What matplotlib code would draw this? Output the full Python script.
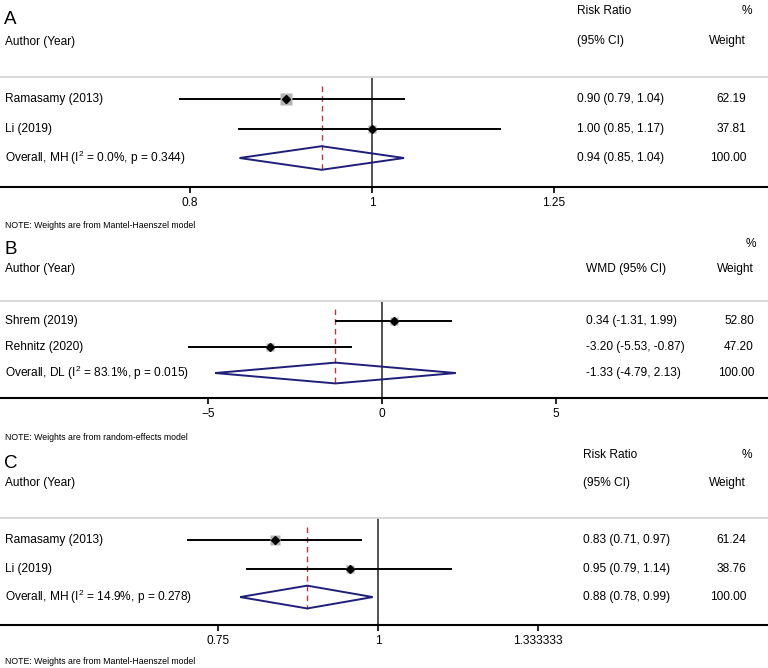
import matplotlib
matplotlib.use('Agg')
import matplotlib.pyplot as plt
import matplotlib.transforms as mtransforms
from matplotlib.ticker import NullLocator
import numpy as np

plt.rcParams['font.family'] = ['Liberation Sans', 'DejaVu Sans']
plt.rcParams['mathtext.fontset'] = 'custom'
plt.rcParams['mathtext.rm'] = 'Liberation Sans'
plt.rcParams['mathtext.it'] = 'Liberation Sans'

W, H = 768, 668

# ---- data ----
a_studies = ['Ramasamy (2013)', 'Li (2019)']
a_est = [0.90, 1.00]
a_lo = [0.79, 0.85]
a_hi = [1.04, 1.17]
a_weight = [62.19, 37.81]
a_overall = (0.94, 0.85, 1.04)
a_overall_label = 'Overall, MH (I$^{2}$ = 0.0%, p = 0.344)'
a_ticks = [0.8, 1, 1.25]
a_ticklabels = ['0.8', '1', '1.25']

b_studies = ['Shrem (2019)', 'Rehnitz (2020)']
b_est = [0.34, -3.20]
b_lo = [-1.31, -5.53]
b_hi = [1.99, -0.87]
b_weight = [52.80, 47.20]
b_overall = (-1.33, -4.79, 2.13)
b_overall_label = 'Overall, DL (I$^{2}$ = 83.1%, p = 0.015)'
b_ticks = [-5, 0, 5]
b_ticklabels = ['\u22125', '0', '5']

c_studies = ['Ramasamy (2013)', 'Li (2019)']
c_est = [0.83, 0.95]
c_lo = [0.71, 0.79]
c_hi = [0.97, 1.14]
c_weight = [61.24, 38.76]
c_overall = (0.88, 0.78, 0.99)
c_overall_label = 'Overall, MH (I$^{2}$ = 14.9%, p = 0.278)'
c_ticks = [0.75, 1, 1.333333]
c_ticklabels = ['0.75', '1', '1.333333']

FS = 8.6
RED = '#b83a3a'
NAVY = '#1f1f7a'
GREY = '#b4b4b4'

fig = plt.figure(figsize=(W / 100, H / 100), dpi=100)


def fx(x):
    return x / W


def fy(y):
    return 1 - y / H


def ftext(x, y, s, **kw):
    kw.setdefault('fontsize', FS)
    kw.setdefault('va', 'center')
    fig.text(fx(x), fy(y), s, **kw)


def forest(top, bottom, ylim, xlim, log, null, studies, est, lo, hi, weight,
           overall, overall_label, ticks, ticklabels, box_k, est_x, wt_x):
    ax = fig.add_axes([0, fy(bottom), 1, (bottom - top) / H])
    if log:
        ax.set_xscale('log')
    ax.set_xlim(*xlim)
    ax.set_ylim(*ylim)
    ax.set_yticks([])
    ax.xaxis.set_minor_locator(NullLocator())
    ax.set_xticks(ticks, ticklabels)
    ax.tick_params(axis='x', direction='out', length=4.5, width=1.2, pad=3,
                   labelsize=FS, colors='black')
    for s in ['left', 'right']:
        ax.spines[s].set_visible(False)
    ax.spines['top'].set_color('#d6d6d6')
    ax.spines['top'].set_linewidth(1.3)
    ax.spines['bottom'].set_linewidth(1.5)
    ax.set_facecolor('none')

    ax.axvline(null, color='#222222', lw=1.1, zorder=1)
    ax.plot([overall[0], overall[0]], [0.55, 3.42], color=RED, lw=1.0,
            ls=(0, (4, 3)), zorder=2)

    rows = np.arange(1, len(studies) + 1)
    for r, e, l, h, w in zip(rows, est, lo, hi, weight):
        ax.plot([l, h], [r, r], color='black', lw=1.4, zorder=3)
        ax.plot(e, r, marker='s', ms=box_k * np.sqrt(w) * 0.72, color=GREY,
                mec='none', zorder=3.5)
        ax.plot(e, r, marker='D', ms=4.0, color='black', zorder=4)

    yo = len(studies) + 1
    oe, ol, oh = overall
    ax.fill([ol, oe, oh, oe, ol], [yo, yo - 0.4, yo, yo + 0.4, yo],
            facecolor='none', edgecolor=NAVY, lw=1.4, zorder=3)

    tr = mtransforms.blended_transform_factory(fig.transFigure, ax.transData)
    labels = list(studies) + [overall_label]
    allest = list(zip(est, lo, hi)) + [overall]
    allw = list(weight) + [100.0]
    for r, lab, (e, l, h), w in zip(range(1, yo + 1), labels, allest, allw):
        ax.text(fx(5), r, lab, transform=tr, fontsize=FS, va='center')
        ax.text(fx(est_x), r, f'{e:.2f} ({l:.2f}, {h:.2f})', transform=tr,
                fontsize=FS, va='center')
        ax.text(fx(wt_x), r, f'{w:.2f}', transform=tr, fontsize=FS,
                va='center', ha='right')
    return ax


# Panel A
ftext(4, 19, 'A', fontsize=13.5)
ftext(5, 42, 'Author (Year)')
ftext(577, 11, 'Risk Ratio')
ftext(577, 41, '(95% CI)')
ftext(752, 11, '%', ha='right')
ftext(746, 41, 'Weight', ha='right')
forest(77, 187, (3.983, 0.254), (0.6337, 1.625), True, 1,
       a_studies, a_est, a_lo, a_hi, a_weight, a_overall, a_overall_label,
       a_ticks, a_ticklabels, 1.4, 577, 746)
ftext(5, 226, 'NOTE: Weights are from Mantel-Haenszel model', fontsize=6.3)

# Panel B
ftext(4, 250, 'B', fontsize=13.5)
ftext(5, 269, 'Author (Year)')
ftext(586, 269, 'WMD (95% CI)')
ftext(756, 244, '%', ha='right')
ftext(754, 269, 'Weight', ha='right')
forest(301, 398, (3.96, 0.231), (-10.97, 11.1), False, 0,
       b_studies, b_est, b_lo, b_hi, b_weight, b_overall, b_overall_label,
       b_ticks, b_ticklabels, 1.2, 586, 754)
ftext(5, 437, 'NOTE: Weights are from random-effects model', fontsize=6.3)

# Panel C
ftext(4, 463, 'C', fontsize=13.5)
ftext(5, 483, 'Author (Year)')
ftext(583, 455, 'Risk Ratio')
ftext(583, 483, '(95% CI)')
ftext(752, 455, '%', ha='right')
ftext(746, 483, 'Weight', ha='right')
forest(518, 625, (3.98, 0.228), (0.5065, 2.015), True, 1,
       c_studies, c_est, c_lo, c_hi, c_weight, c_overall, c_overall_label,
       c_ticks, c_ticklabels, 1.3, 583, 746)
ftext(5, 662, 'NOTE: Weights are from Mantel-Haenszel model', fontsize=6.3)

fig.savefig('out.png', dpi=100)
